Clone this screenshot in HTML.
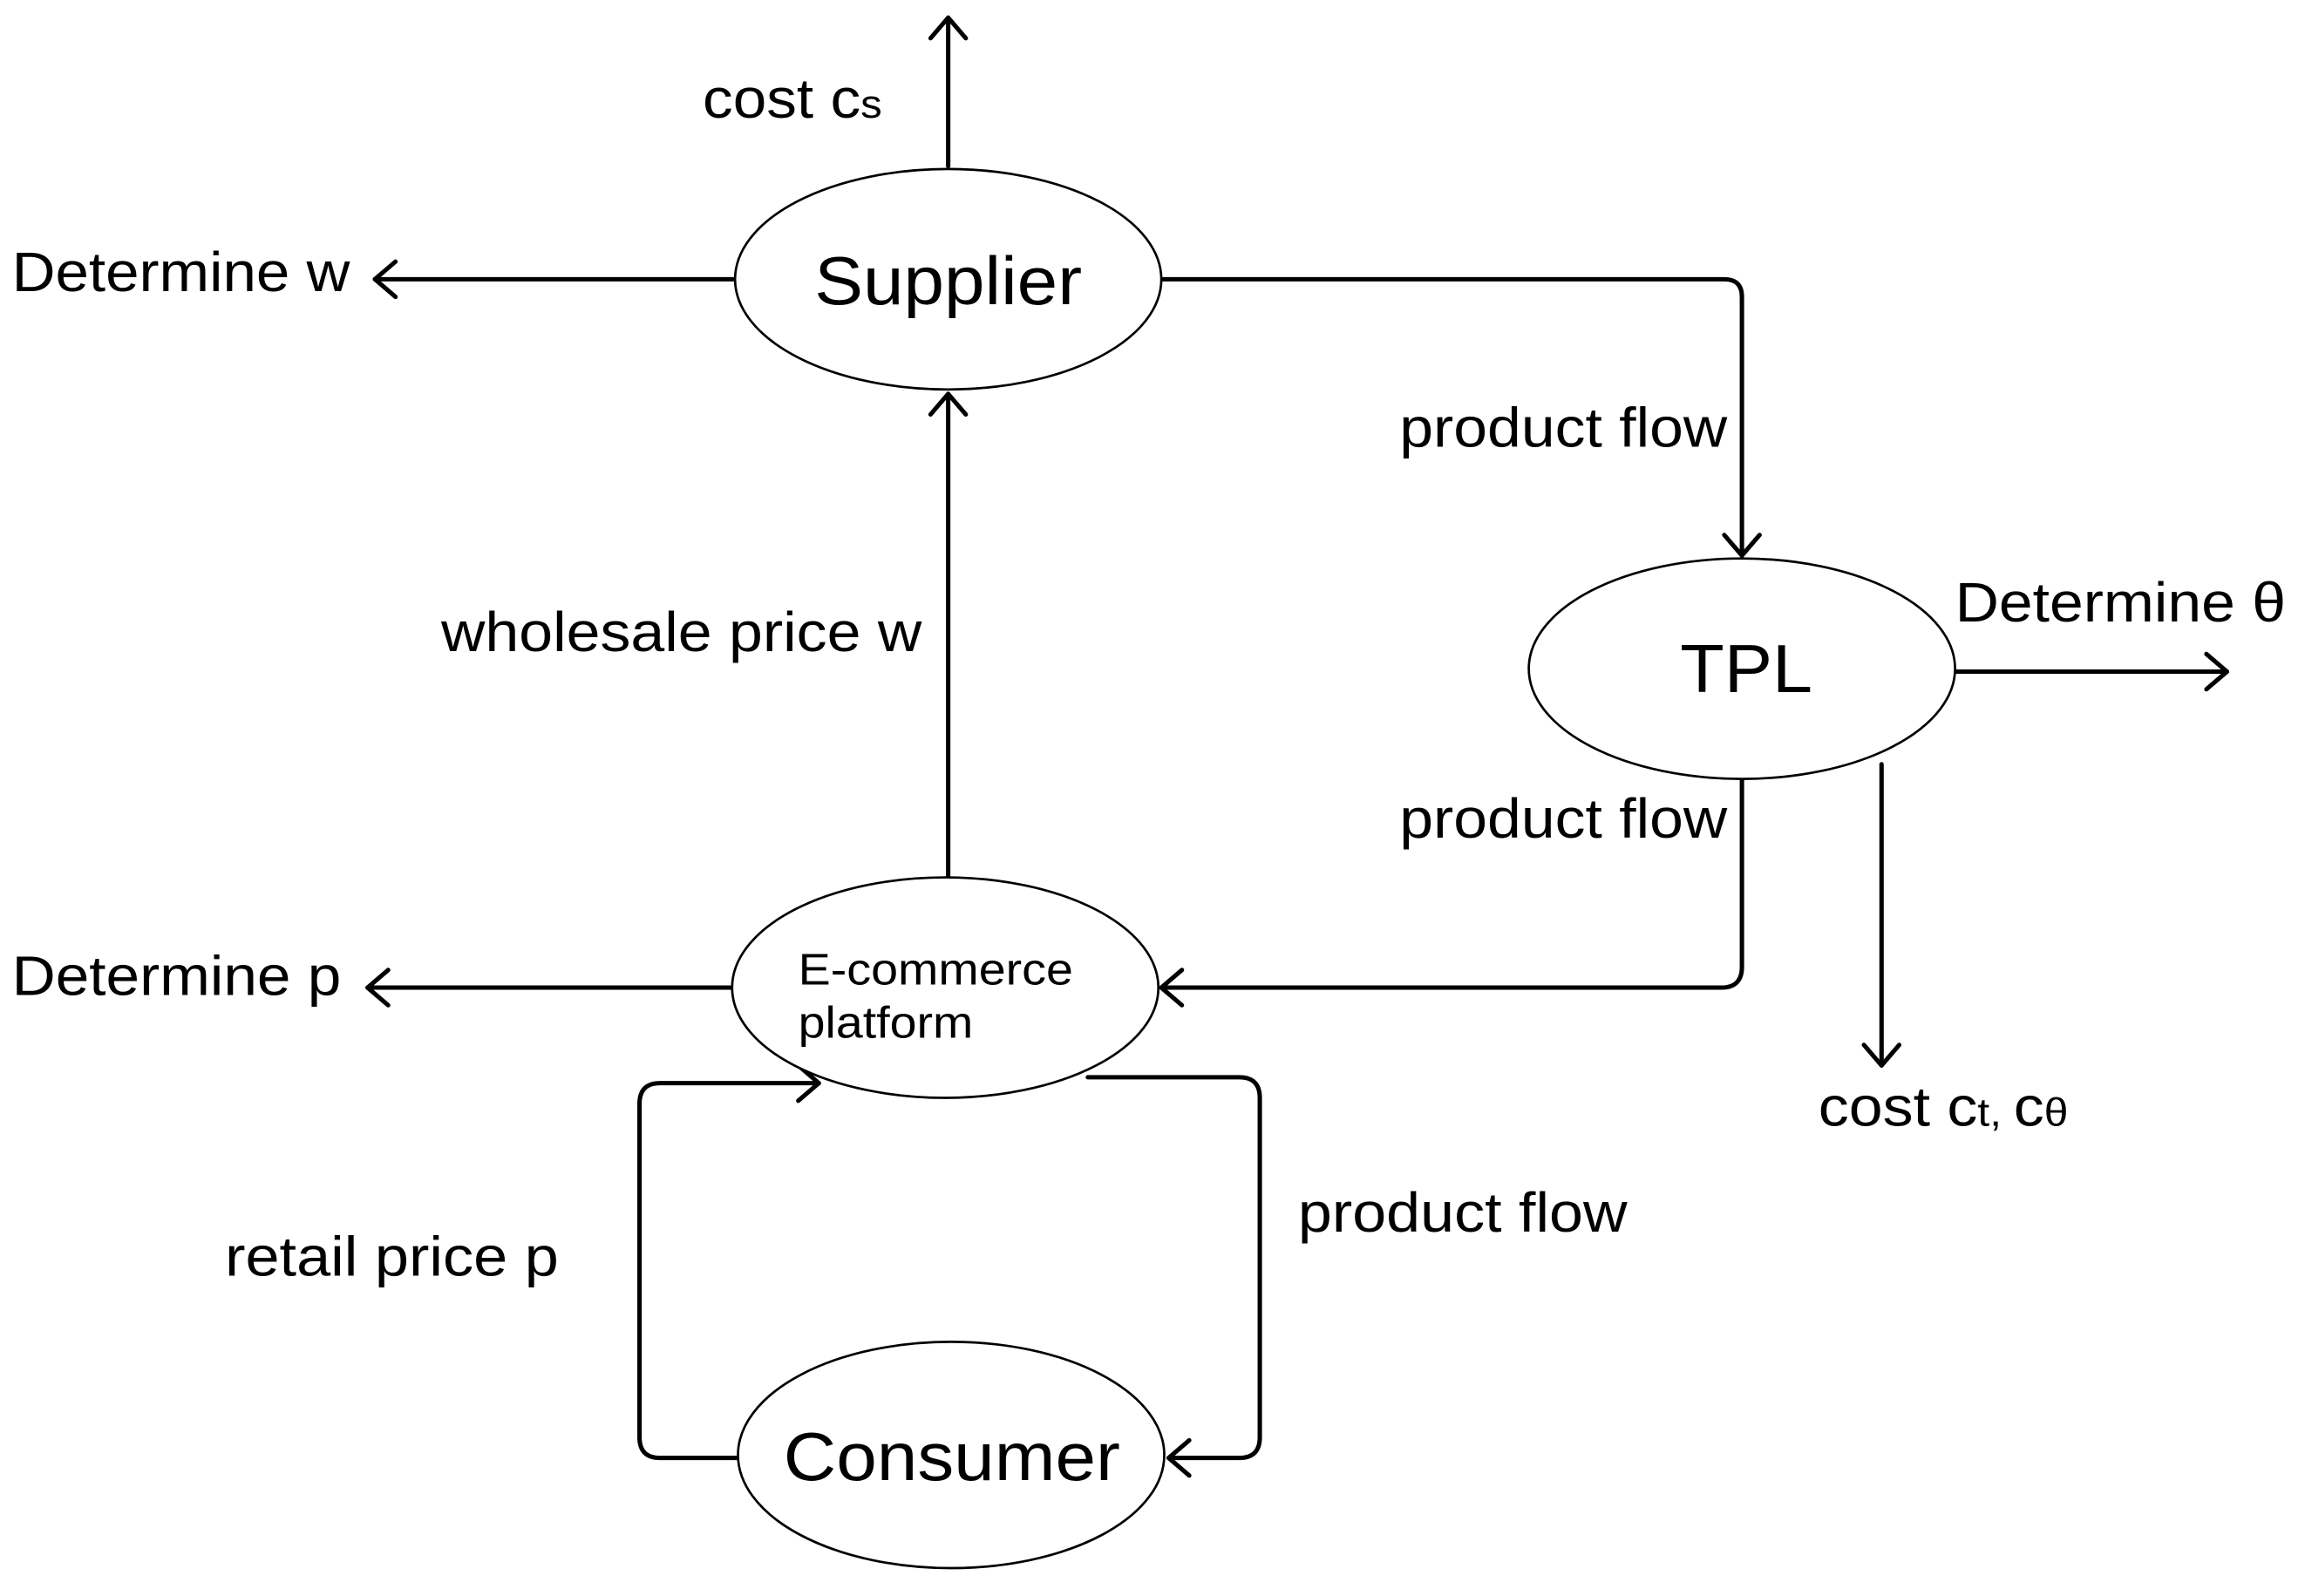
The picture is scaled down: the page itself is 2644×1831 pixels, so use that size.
<!DOCTYPE html>
<html><head><meta charset="utf-8"><style>html,body{margin:0;padding:0;background:#fff}</style></head>
<body>
<svg width="2644" height="1826" viewBox="0 0 1568 1083" xmlns="http://www.w3.org/2000/svg" font-family="Liberation Sans, Arial, sans-serif" fill="#000">
<rect width="1568" height="1083" fill="#fff"/>
<g fill="none" stroke="#000" stroke-width="3" stroke-linecap="round" stroke-linejoin="round">
  <line x1="645" y1="113" x2="645" y2="12"/>
  <polyline points="633,26 645,12 657,26"/>
  <line x1="500" y1="190" x2="255" y2="190"/>
  <polyline points="269,178 255,190 269,202"/>
  <path d="M790,190 H1173 Q1185,190 1185,202 V378"/>
  <polyline points="1173,364 1185,378 1197,364"/>
  <line x1="1330" y1="457" x2="1515" y2="457"/>
  <polyline points="1501,445 1515,457 1501,469"/>
  <line x1="1280" y1="520" x2="1280" y2="725"/>
  <polyline points="1268,711 1280,725 1292,711"/>
  <path d="M1185,530 V658 Q1185,672 1171,672 H790"/>
  <polyline points="804,660 790,672 804,684"/>
  <line x1="645" y1="597" x2="645" y2="268"/>
  <polyline points="633,282 645,268 657,282"/>
  <line x1="498" y1="672" x2="250" y2="672"/>
  <polyline points="264,660 250,672 264,684"/>
  <path d="M503,992 H449 Q435,992 435,978 V751 Q435,737 449,737 H557"/>
  <polyline points="543,725 557,737 543,749"/>
  <path d="M740,733 H843 Q857,733 857,747 V978 Q857,992 843,992 H795"/>
  <polyline points="809,980 795,992 809,1004"/>
</g>
<g fill="#fff" stroke="#000" stroke-width="1.6">
  <ellipse cx="645" cy="190" rx="145" ry="75"/>
  <ellipse cx="1185" cy="455" rx="145" ry="75"/>
  <ellipse cx="643" cy="672" rx="145" ry="75"/>
  <ellipse cx="647" cy="990" rx="145" ry="77"/>
</g>
<g font-size="46" lengthAdjust="spacingAndGlyphs">
  <text x="554" y="207" textLength="182" lengthAdjust="spacingAndGlyphs">Supplier</text>
  <text x="1143" y="471" textLength="90" lengthAdjust="spacingAndGlyphs">TPL</text>
  <text x="533" y="1007" textLength="229" lengthAdjust="spacingAndGlyphs">Consumer</text>
</g>
<g font-size="30">
  <text x="543" y="670" textLength="187" lengthAdjust="spacingAndGlyphs">E-commerce</text>
  <text x="543" y="706" textLength="119" lengthAdjust="spacingAndGlyphs">platform</text>
</g>
<g font-size="38">
  <text x="478" y="80" textLength="122" lengthAdjust="spacingAndGlyphs">cost c<tspan font-size="27">s</tspan></text>
  <text x="8" y="198" textLength="230" lengthAdjust="spacingAndGlyphs">Determine w</text>
  <text x="952" y="304" textLength="223" lengthAdjust="spacingAndGlyphs">product flow</text>
  <text x="1330" y="423" textLength="225" lengthAdjust="spacingAndGlyphs">Determine θ</text>
  <text x="300" y="443" textLength="327" lengthAdjust="spacingAndGlyphs">wholesale price w</text>
  <text x="952" y="570" textLength="223" lengthAdjust="spacingAndGlyphs">product flow</text>
  <text x="8" y="677" textLength="224" lengthAdjust="spacingAndGlyphs">Determine p</text>
  <text x="1237" y="766" textLength="170" lengthAdjust="spacingAndGlyphs">cost c<tspan font-size="27">t, </tspan>c<tspan font-size="27">θ</tspan></text>
  <text x="883" y="838" textLength="224" lengthAdjust="spacingAndGlyphs">product flow</text>
  <text x="153" y="868" textLength="227" lengthAdjust="spacingAndGlyphs">retail price p</text>
</g>
</svg>
</body></html>
